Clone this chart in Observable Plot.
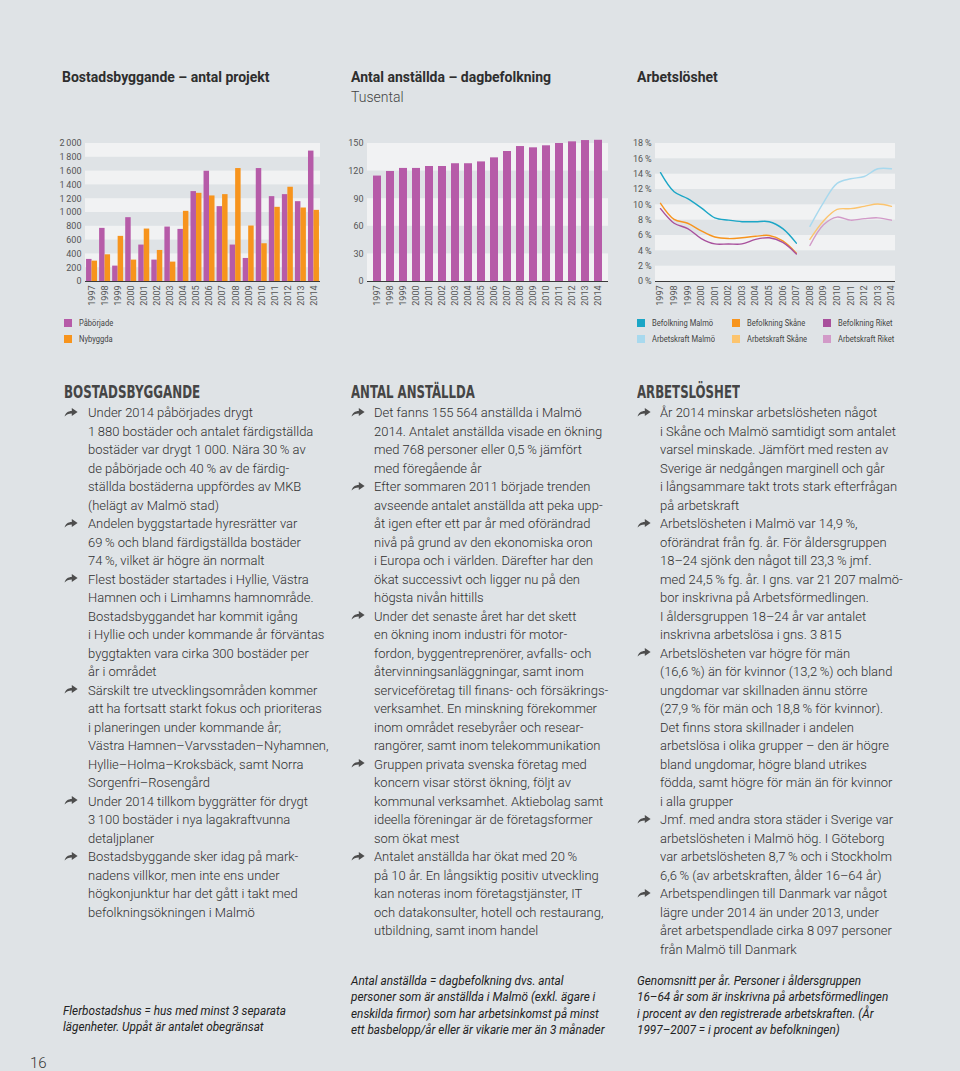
<!DOCTYPE html>
<html><head><meta charset="utf-8">
<script src="https://cdn.jsdelivr.net/npm/d3@7"></script>
<script src="https://cdn.jsdelivr.net/npm/@observablehq/plot@0.6"></script>
<style>
body{margin:0;background:#dfe3e6;}
#page{position:relative;width:960px;height:1071px;overflow:hidden;background:#dfe3e6;font-family:Roboto,"Noto Sans",sans-serif;color:#333;}
.abs{position:absolute;white-space:nowrap;}
.title{font-weight:bold;font-size:14px;line-height:16px;color:#2e2e2e;}
.sub{font-size:14px;line-height:16px;color:#444;font-weight:300;}
.chart{position:absolute;}
.leg{position:absolute;font-size:9px;line-height:12px;color:#444;white-space:nowrap;transform:scaleX(0.84);transform-origin:0 0;}
.sw{position:absolute;width:8px;height:8px;}
.head{font-family:"Liberation Sans Narrow","DejaVu Sans Condensed",sans-serif;font-weight:bold;font-size:18px;line-height:18px;color:#454545;transform-origin:0 0;}
.col{position:absolute;transform-origin:0 0;font-size:13.5px;line-height:18.52px;font-weight:300;color:#2f2f2f;}
.col div{white-space:nowrap;}
.arrow{position:absolute;width:14px;height:10px;line-height:0;}
.arrow svg{display:block;}
.note{position:absolute;transform-origin:0 0;font-style:italic;font-size:12px;line-height:16.3px;color:#222;}
.note div{white-space:nowrap;}
</style></head>
<body><div id="page"></div>
<script>
// ---------- data ----------
const years = [1997,1998,1999,2000,2001,2002,2003,2004,2005,2006,2007,2008,2009,2010,2011,2012,2013,2014];
const paborjade = [320,770,223,925,528,310,789,755,1303,1598,1085,528,334,1637,1230,1259,1157,1890];
const nybyggda  = [295,387,654,310,760,450,281,1017,1278,1240,1259,1637,804,547,1075,1366,1065,1031];
const anstallda = [114.6,119.6,122.9,122.9,125.0,125.0,128.0,128.0,130.0,134.4,141.3,146.7,145.3,147.5,150.0,151.8,153.2,153.5];
const yearsBef = [1997,1998,1999,2000,2001,2002,2003,2004,2005,2006,2007];
const yearsArb = [2008,2009,2010,2011,2012,2013,2014];
const befMalmo = [14.2,11.7,10.8,9.6,8.3,8.0,7.8,7.8,7.8,6.9,5.0];
const befSkane = [10.2,8.1,7.6,6.6,5.8,5.6,5.7,5.9,6.0,5.3,3.7];
const befRiket = [9.5,7.6,6.9,5.6,4.9,4.9,4.9,5.5,5.7,5.1,3.6];
const arbMalmo = [7.2,10.3,12.8,13.4,13.7,14.7,14.7];
const arbSkane = [5.5,7.9,9.4,9.5,9.8,10.1,9.8];
const arbRiket = [4.7,7.4,8.4,8.0,8.2,8.3,8.0];
const ticks1 = [0,200,400,600,800,1000,1200,1400,1600,1800,2000];
const ticks2 = [0,30,60,90,120,150];
const ticks3 = [0,2,4,6,8,10,12,14,16,18];
const housingSeries = ["Påbörjade","Nybyggda"];
const unempSeries = ["Befolkning Malmö","Befolkning Skåne","Befolkning Riket","Arbetskraft Malmö","Arbetskraft Skåne","Arbetskraft Riket"];
const titles = ["Bostadsbyggande – antal projekt","Antal anställda – dagbefolkning","Arbetslöshet"];

// ---------- styles ----------
const purple = "#b65ba8", orange = "#f7941d";
const lineColors = ["#1ba6c6","#f7941d","#a8509c","#a8d9ee","#fcc46e","#d29ac8"];
const bandFill = "#f1f2f3";
const axisStyle = {background:"transparent",fontSize:"9px",fontFamily:"Roboto, sans-serif",color:"#555",overflow:"visible"};
const thin = "\u2009";
const fmtK = d => d >= 1000 ? String(Math.floor(d/1000)) + thin + String(d % 1000).padStart(3,"0") : String(d);
function bands(ticks){const out=[];for(let i=ticks.length-1;i>0;i-=2)out.push({y1:ticks[i-1],y2:ticks[i]});return out;}

const page = document.getElementById("page");
function el(tag, cls, style, text){const e=document.createElement(tag); if(cls)e.className=cls; Object.assign(e.style,style||{}); if(text!=null)e.textContent=text; page.appendChild(e); return e;}

// titles
el("div","abs title",{left:"62px",top:"69px"},titles[0]);
el("div","abs title",{left:"351px",top:"69px"},titles[1]);
el("div","abs sub",{left:"351px",top:"89px"},"Tusental");
el("div","abs title",{left:"637px",top:"69px"},titles[2]);

// ---------- chart 1 ----------
const housing = years.flatMap((y,i)=>[
  {year:y, serie:housingSeries[0], value:paborjade[i]},
  {year:y, serie:housingSeries[1], value:nybyggda[i]}
]);
const c1 = Plot.plot({
  width:280, height:175, marginTop:10, marginBottom:27, marginLeft:35, marginRight:10,
  style:axisStyle,
  x:{type:"linear", domain:[1996.5,2014.5], ticks:years, tickFormat:d=>String(d), tickRotate:-90, tickSize:0, tickPadding:4, label:null},
  y:{domain:[0,2000], ticks:ticks1, tickFormat:fmtK, tickSize:0, tickPadding:4, label:null},
  color:{domain:housingSeries, range:[purple,orange]},
  marks:[
    Plot.rect(bands(ticks1), {y1:"y1", y2:"y2", fill:bandFill}),
    Plot.rect(housing, {x1:d=>d.serie===housingSeries[0]?d.year-0.42:d.year, x2:d=>d.serie===housingSeries[0]?d.year:d.year+0.42, y1:0, y2:"value", fill:"serie"}),
    Plot.ruleY([0], {stroke:"#3a3a3a", strokeWidth:1.2})
  ]
});
const d1 = el("div","chart",{left:"50px",top:"133px"}); d1.appendChild(c1);

// ---------- chart 2 ----------
const staff = years.map((y,i)=>({year:y, value:anstallda[i]}));
const c2 = Plot.plot({
  width:280, height:175, marginTop:10, marginBottom:27, marginLeft:27, marginRight:12,
  style:axisStyle,
  x:{type:"band", domain:years, paddingInner:0.38, paddingOuter:0.08, tickFormat:d=>String(d), tickRotate:-90, tickSize:0, tickPadding:4, label:null},
  y:{domain:[0,150], ticks:ticks2, tickSize:0, tickPadding:4, label:null},
  marks:[
    Plot.rect(bands(ticks2), {y1:"y1", y2:"y2", fill:bandFill}),
    Plot.barY(staff, {x:"year", y:"value", fill:purple}),
    Plot.ruleY([0], {stroke:"#3a3a3a", strokeWidth:1.2})
  ]
});
const d2 = el("div","chart",{left:"340px",top:"133px"}); d2.appendChild(c2);

// ---------- chart 3 ----------
const unemp = [
  ...yearsBef.map((y,i)=>({year:y, serie:unempSeries[0], value:befMalmo[i]})),
  ...yearsBef.map((y,i)=>({year:y, serie:unempSeries[1], value:befSkane[i]})),
  ...yearsBef.map((y,i)=>({year:y, serie:unempSeries[2], value:befRiket[i]})),
  ...yearsArb.map((y,i)=>({year:y, serie:unempSeries[3], value:arbMalmo[i]})),
  ...yearsArb.map((y,i)=>({year:y, serie:unempSeries[4], value:arbSkane[i]})),
  ...yearsArb.map((y,i)=>({year:y, serie:unempSeries[5], value:arbRiket[i]}))
];
const c3 = Plot.plot({
  width:280, height:175, marginTop:10, marginBottom:27, marginLeft:30, marginRight:10,
  style:axisStyle,
  x:{type:"linear", domain:[1996.63,2014.3], ticks:years, tickFormat:d=>String(d), tickRotate:-90, tickSize:0, tickPadding:4, label:null},
  y:{domain:[0,18], ticks:ticks3, tickFormat:d=>d+thin+"%", tickSize:0, tickPadding:4, label:null},
  color:{domain:unempSeries, range:lineColors},
  marks:[
    Plot.rect(bands(ticks3), {y1:"y1", y2:"y2", fill:bandFill}),
    Plot.line(unemp, {x:"year", y:"value", z:"serie", stroke:"serie", strokeWidth:1.4, curve:"catmull-rom"}),
    Plot.ruleY([0], {stroke:"#3a3a3a", strokeWidth:1.2})
  ]
});
const d3c = el("div","chart",{left:"625px",top:"133px"}); d3c.appendChild(c3);

// ---------- legends ----------
function legendItem(x, y, color, text){
  el("div","sw",{left:x+"px",top:y+"px",background:color});
  el("div","leg",{left:(x+15)+"px",top:(y-2)+"px"},text);
}
legendItem(64,319,purple,housingSeries[0]);
legendItem(64,335,orange,housingSeries[1]);
const legX = [637,732,823];
unempSeries.forEach((s,i)=>legendItem(legX[i%3], i<3?319:335, lineColors[i], s));

// ---------- text columns ----------
const col1 = [
 ["Under 2014 påbörjades drygt","1"+thin+"880 bostäder och antalet färdigställda","bostäder var drygt 1"+thin+"000. Nära 30"+thin+"% av","de påbörjade och 40"+thin+"% av de färdig-","ställda bostäderna uppfördes av MKB","(helägt av Malmö stad)"],
 ["Andelen byggstartade hyresrätter var","69"+thin+"% och bland färdigställda bostäder","74"+thin+"%, vilket är högre än normalt"],
 ["Flest bostäder startades i Hyllie, Västra","Hamnen och i Limhamns hamnområde.","Bostadsbyggandet har kommit igång","i Hyllie och under kommande år förväntas","byggtakten vara cirka 300 bostäder per","år i området"],
 ["Särskilt tre utvecklingsområden kommer","att ha fortsatt starkt fokus och prioriteras","i planeringen under kommande år;","Västra Hamnen–Varvsstaden–Nyhamnen,","Hyllie–Holma–Kroksbäck, samt Norra","Sorgenfri–Rosengård"],
 ["Under 2014 tillkom byggrätter för drygt","3"+thin+"100 bostäder i nya lagakraftvunna","detaljplaner"],
 ["Bostadsbyggande sker idag på mark-","nadens villkor, men inte ens under","högkonjunktur har det gått i takt med","befolkningsökningen i Malmö"]
];
const col2 = [
 ["Det fanns 155"+thin+"564 anställda i Malmö","2014. Antalet anställda visade en ökning","med 768 personer eller 0,5"+thin+"% jämfört","med föregående år"],
 ["Efter sommaren 2011 började trenden","avseende antalet anställda att peka upp-","åt igen efter ett par år med oförändrad","nivå på grund av den ekonomiska oron","i Europa och i världen. Därefter har den","ökat successivt och ligger nu på den","högsta nivån hittills"],
 ["Under det senaste året har det skett","en ökning inom industri för motor-","fordon, byggentreprenörer, avfalls- och","återvinningsanläggningar, samt inom","serviceföretag till finans- och försäkrings-","verksamhet. En minskning förekommer","inom området resebyråer och resear-","rangörer, samt inom telekommunikation"],
 ["Gruppen privata svenska företag med","koncern visar störst ökning, följt av","kommunal verksamhet. Aktiebolag samt","ideella föreningar är de företagsformer","som ökat mest"],
 ["Antalet anställda har ökat med 20"+thin+"%","på 10 år. En långsiktig positiv utveckling","kan noteras inom företagstjänster, IT","och datakonsulter, hotell och restaurang,","utbildning, samt inom handel"]
];
const col3 = [
 ["År 2014 minskar arbetslösheten något","i Skåne och Malmö samtidigt som antalet","varsel minskade. Jämfört med resten av","Sverige är nedgången marginell och går","i långsammare takt trots stark efterfrågan","på arbetskraft"],
 ["Arbetslösheten i Malmö var 14,9"+thin+"%,","oförändrat från fg. år. För åldersgruppen","18–24 sjönk den något till 23,3"+thin+"% jmf.","med 24,5"+thin+"% fg. år. I gns. var 21"+thin+"207 malmö-","bor inskrivna på Arbetsförmedlingen.","I åldersgruppen 18–24 år var antalet","inskrivna arbetslösa i gns. 3"+thin+"815"],
 ["Arbetslösheten var högre för män","(16,6"+thin+"%) än för kvinnor (13,2"+thin+"%) och bland","ungdomar var skillnaden ännu större","(27,9"+thin+"% för män och 18,8"+thin+"% för kvinnor).","Det finns stora skillnader i andelen","arbetslösa i olika grupper – den är högre","bland ungdomar, högre bland utrikes","födda, samt högre för män än för kvinnor","i alla grupper"],
 ["Jmf. med andra stora städer i Sverige var","arbetslösheten i Malmö hög. I Göteborg","var arbetslösheten 8,7"+thin+"% och i Stockholm","6,6"+thin+"% (av arbetskraften, ålder 16–64 år)"],
 ["Arbetspendlingen till Danmark var något","lägre under 2014 än under 2013, under","året arbetspendlade cirka 8"+thin+"097 personer","från Malmö till Danmark"]
];
const heads = ["BOSTADSBYGGANDE","ANTAL ANSTÄLLDA","ARBETSLÖSHET"];
const headWidths = [136,124,103];
const notes = [
 ["Flerbostadshus = hus med minst 3 separata","lägenheter. Uppåt är antalet obegränsat"],
 ["Antal anställda = dagbefolkning dvs. antal","personer som är anställda i Malmö (exkl. ägare i","enskilda firmor) som har arbetsinkomst på minst","ett basbelopp/år eller är vikarie mer än 3 månader"],
 ["Genomsnitt per år. Personer i åldersgruppen","16–64 år som är inskrivna på arbetsförmedlingen","i procent av den registrerade arbetskraften. (År","1997–2007 = i procent av befolkningen)"]
];

const arrowSvg = '<svg width="14" height="10" viewBox="0 0 14 10"><path d="M0.6,9.6 C1.4,6.2 3.8,4.1 7.8,4.1 L7.8,0.9 L13.6,5 L7.8,9.1 L7.8,6.5 C4.6,6.5 2.4,7.6 0.6,9.6 Z" fill="#4d4d4d"/></svg>';

const cols = [col1,col2,col3];
const arrowX = [64,351,637], textX = [88,374,660], headX = [64,351,637];
const noteX = [63,351,637], noteTop = [1003,973,973];
const colEls = [], noteEls = [], headEls = [];
cols.forEach((paras,ci)=>{
  const h = el("div","abs head",{left:headX[ci]+"px",top:"383px"});
  const hs = document.createElement("span"); hs.textContent = heads[ci]; h.appendChild(hs);
  headEls.push(h);
  const c = el("div","col",{left:textX[ci]+"px",top:"403px"});
  let line = 0;
  paras.forEach(p=>{
    const a = el("div","arrow",{left:arrowX[ci]+"px",top:(403+line*18.52+3.5)+"px"});
    a.innerHTML = arrowSvg;
    p.forEach(t=>{const d=document.createElement("div");const s=document.createElement("span");s.textContent=t;d.appendChild(s);c.appendChild(d);line++;});
  });
  colEls.push(c);
  const n = el("div","note",{left:noteX[ci]+"px",top:noteTop[ci]+"px"});
  notes[ci].forEach(t=>{const d=document.createElement("div");const s=document.createElement("span");s.textContent=t;d.appendChild(s);n.appendChild(d);});
  noteEls.push(n);
});
el("div","abs",{left:"30px",top:"1054px",fontSize:"15px",fontWeight:"300",color:"#333"},"16");

// fit text widths to the reference line lengths
function fit(){
  const ref = colEls[0].children[1].firstChild.offsetWidth;
  const k = 225/ref;
  colEls.forEach(c=>c.style.transform="scaleX("+k+")");
  const nref = noteEls[0].children[0].firstChild.offsetWidth;
  const kn = 223/nref;
  noteEls.forEach(c=>c.style.transform="scaleX("+kn+")");
  headEls.forEach((h,i)=>{const w=h.firstChild.offsetWidth; h.style.transform="scaleX("+(headWidths[i]/w)+")";});
}
fit();
if (document.fonts && document.fonts.ready) document.fonts.ready.then(fit);
</script>
</body></html>
